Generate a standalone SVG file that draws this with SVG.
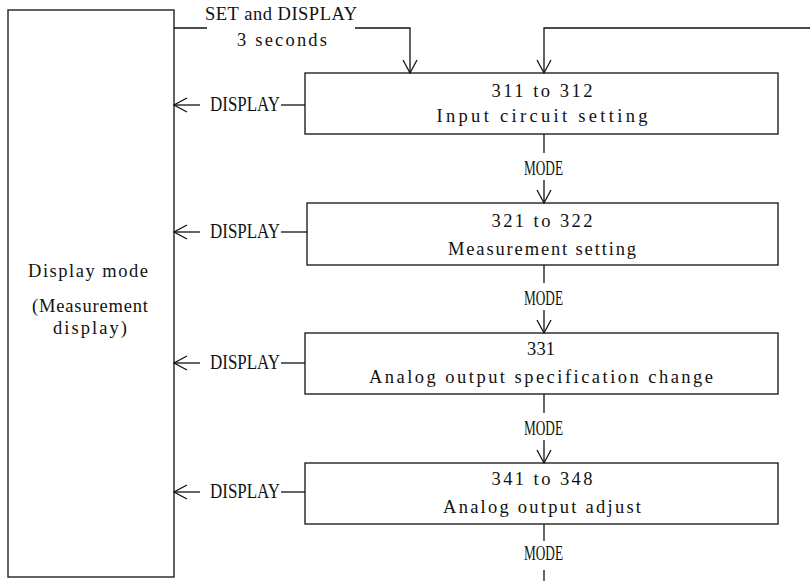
<svg xmlns="http://www.w3.org/2000/svg" width="810" height="581" viewBox="0 0 810 581">
<style>
.box{fill:#fff;stroke:#222;stroke-width:1.4}
.ln{fill:none;stroke:#111;stroke-width:1.3}
.t{font-family:"Liberation Serif",serif;font-size:18.5px;fill:#111;text-anchor:middle}
.k{font-family:"Liberation Serif",serif;font-size:20px;fill:#111}
</style>
<defs>
<marker id="ah" markerWidth="16" markerHeight="16" refX="14" refY="8" orient="auto" markerUnits="userSpaceOnUse">
<path d="M1,1 L14,8 L1,15" fill="none" stroke="#111" stroke-width="1.3"/>
</marker>
</defs>
<rect width="810" height="581" fill="#fff"/>
<g id="display-mode">
<rect class="box" x="8" y="10" width="166" height="567"/>
<text class="t" x="88" y="277" textLength="120" lengthAdjust="spacing">Display mode</text>
<text class="t" x="90" y="312" textLength="116" lengthAdjust="spacing">(Measurement</text>
<text class="t" x="90" y="334" textLength="74" lengthAdjust="spacing">display)</text>
</g>
<g id="n311">
<rect class="box" x="305" y="73" width="473" height="61"/>
<text class="t" x="542" y="97" textLength="101" lengthAdjust="spacing">311 to 312</text>
<text class="t" x="542" y="122" textLength="211" lengthAdjust="spacing">Input circuit setting</text>
</g>
<g id="n321">
<rect class="box" x="307" y="203" width="471" height="62"/>
<text class="t" x="542" y="227" textLength="101" lengthAdjust="spacing">321 to 322</text>
<text class="t" x="542" y="255" textLength="188" lengthAdjust="spacing">Measurement setting</text>
</g>
<g id="n331">
<rect class="box" x="305" y="333" width="473" height="61"/>
<text class="t" x="541" y="355" textLength="28" lengthAdjust="spacing">331</text>
<text class="t" x="541" y="383" textLength="344" lengthAdjust="spacing">Analog output specification change</text>
</g>
<g id="n341">
<rect class="box" x="305" y="463" width="473" height="61"/>
<text class="t" x="542" y="485" textLength="101" lengthAdjust="spacing">341 to 348</text>
<text class="t" x="542" y="513" textLength="198" lengthAdjust="spacing">Analog output adjust</text>
</g>
<g id="connectors">
<path class="ln" d="M174,28 H207"/>
<path class="ln" d="M355,28 H410 V73" marker-end="url(#ah)"/>
<text class="t" x="281" y="20" textLength="152" lengthAdjust="spacing">SET and DISPLAY</text>
<text class="t" x="282" y="46" textLength="90" lengthAdjust="spacing">3 seconds</text>
<path class="ln" d="M810,28 H544 V73" marker-end="url(#ah)"/>
<path class="ln" d="M305,105 H281"/>
<path class="ln" d="M200,105 H174" marker-end="url(#ah)"/>
<text class="k" x="210" y="111" textLength="70" lengthAdjust="spacingAndGlyphs">DISPLAY</text>
<path class="ln" d="M307,232 H281"/>
<path class="ln" d="M200,232 H174" marker-end="url(#ah)"/>
<text class="k" x="210" y="238" textLength="70" lengthAdjust="spacingAndGlyphs">DISPLAY</text>
<path class="ln" d="M305,363 H281"/>
<path class="ln" d="M200,363 H174" marker-end="url(#ah)"/>
<text class="k" x="210" y="369" textLength="70" lengthAdjust="spacingAndGlyphs">DISPLAY</text>
<path class="ln" d="M305,492 H281"/>
<path class="ln" d="M200,492 H174" marker-end="url(#ah)"/>
<text class="k" x="210" y="498" textLength="70" lengthAdjust="spacingAndGlyphs">DISPLAY</text>
<path class="ln" d="M544,134 V153"/>
<text class="k" x="524" y="175" textLength="39" lengthAdjust="spacingAndGlyphs">MODE</text>
<path class="ln" d="M544,180 V203" marker-end="url(#ah)"/>
<path class="ln" d="M544,265 V283"/>
<text class="k" x="524" y="305" textLength="39" lengthAdjust="spacingAndGlyphs">MODE</text>
<path class="ln" d="M544,310 V333" marker-end="url(#ah)"/>
<path class="ln" d="M544,394 V413"/>
<text class="k" x="524" y="435" textLength="39" lengthAdjust="spacingAndGlyphs">MODE</text>
<path class="ln" d="M544,440 V463" marker-end="url(#ah)"/>
<path class="ln" d="M544,524 V541"/>
<text class="k" x="524" y="560" textLength="39" lengthAdjust="spacingAndGlyphs">MODE</text>
<path class="ln" d="M544,570 V581"/>
</g>
</svg>
